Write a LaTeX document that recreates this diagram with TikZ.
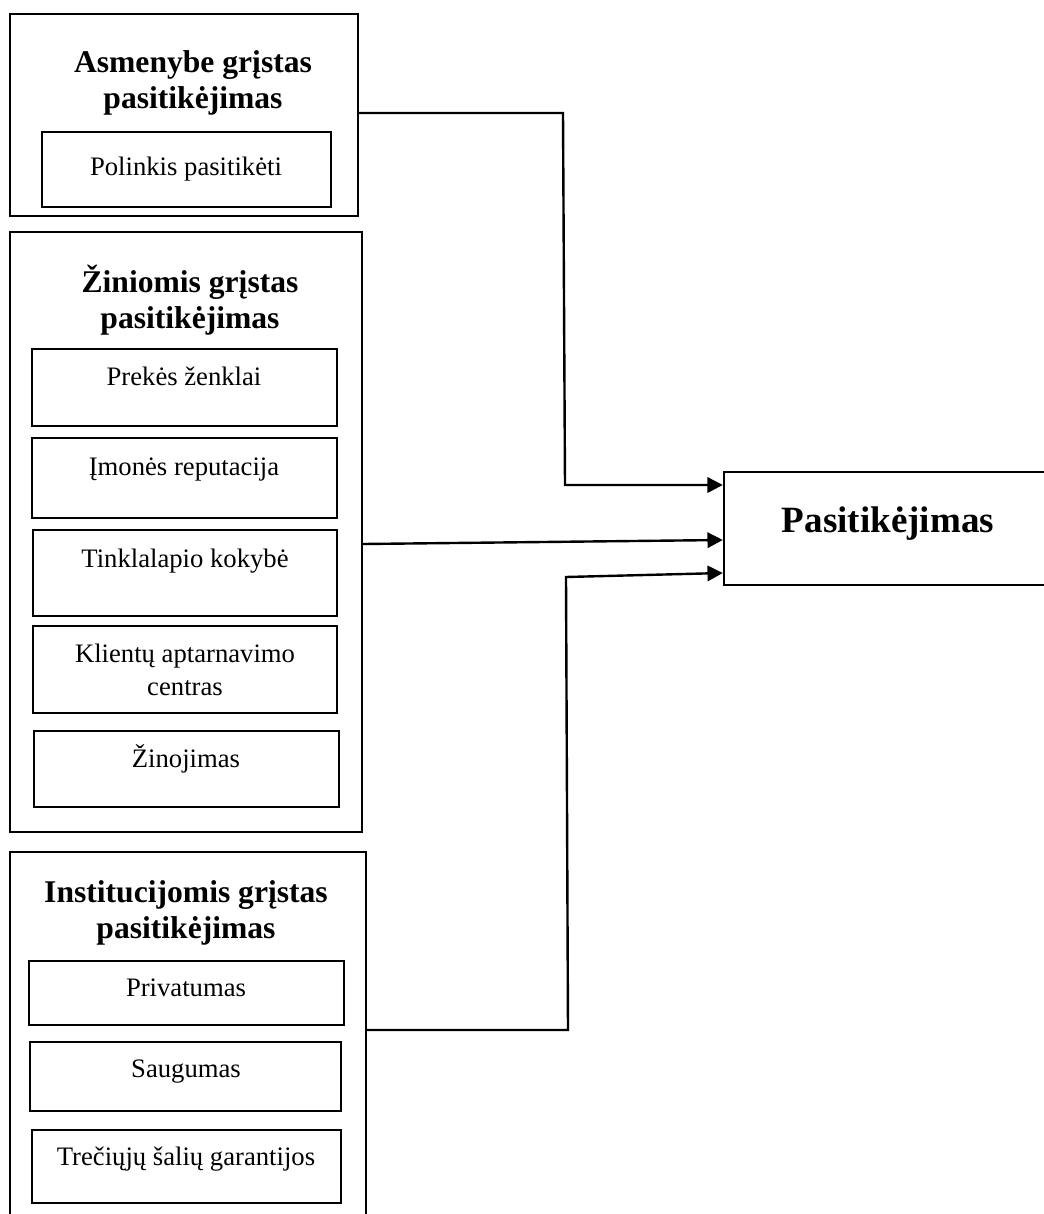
\documentclass[tikz,border=0pt]{standalone}
\usepackage{fontspec}
\setmainfont{Liberation Serif}
\usetikzlibrary{fit,arrows.meta}
\begin{document}
\begin{tikzpicture}[x=0.75pt,y=-0.75pt,
  group/.style={draw, line width=1.8pt, inner sep=0pt},
  item/.style={draw, line width=2.1pt, inner sep=0pt},
  itemtext/.style={anchor=base, font=\fontsize{20}{24.5}\selectfont, align=center},
  title/.style={anchor=base, font=\bfseries\fontsize{23.7}{26.3}\selectfont, align=center},
  link/.style={line width=1.8pt, -{Triangle[length=11.5pt,width=11.5pt]}}]
\useasboundingbox (0,0) rectangle (1044,1214);

% personality-based trust (base anchor = baseline of the last line)
\node[group, fit={(10,14) (358,216)}] (A) {};
\node[title] (At) at (193,108) {Asmenybe grįstas\\pasitikėjimas};
\node[item, fit={(42,132) (331,207)}] (A1) {};
\node[itemtext] (A1t) at (186,175) {Polinkis pasitikėti};

% knowledge-based trust
\node[group, fit={(10,232) (362,832)}] (B) {};
\node[title] (Bt) at (190,328) {Žiniomis grįstas\\pasitikėjimas};
\node[item, fit={(32,349) (337,426)}] (B1) {};
\node[itemtext] (B1t) at (184,385) {Prekės ženklai};
\node[item, fit={(32,438) (337,518)}] (B2) {};
\node[itemtext] (B2t) at (184,475) {Įmonės reputacija};
\node[item, fit={(33,530) (337,616)}] (B3) {};
\node[itemtext] (B3t) at (185,567) {Tinklalapio kokybė};
\node[item, fit={(33,626) (337,713)}] (B4) {};
\node[itemtext] (B4t) at (185,695) {Klientų aptarnavimo\\centras};
\node[item, fit={(34,731) (339,807)}] (B5) {};
\node[itemtext] (B5t) at (186,767) {Žinojimas};

% institution-based trust
\node[group, fit={(10,852) (366,1222)}] (C) {};
\node[title] (Ct) at (186,938) {Institucijomis grįstas\\pasitikėjimas};
\node[item, fit={(29,961) (344,1025)}] (C1) {};
\node[itemtext] (C1t) at (186,996) {Privatumas};
\node[item, fit={(30,1042) (341,1111)}] (C2) {};
\node[itemtext] (C2t) at (186,1077) {Saugumas};
\node[item, fit={(32,1130) (341,1203)}] (C3) {};
\node[itemtext] (C3t) at (186,1165) {Trečiųjų šalių garantijos};

% overall trust
\node[group, fit={(724,472) (1054,585)}] (P) {};
\node[title, font=\bfseries\fontsize{27.8}{30}\selectfont] (Pt) at (888,532) {Pasitikėjimas};

% connectors
\coordinate (y1) at (0,113);
\coordinate (y2) at (0,485);
\coordinate (y3) at (0,544);
\coordinate (y4) at (0,540);
\coordinate (y5) at (0,1030);
\coordinate (y6) at (0,573);
\draw[link] (A.east |- y1) -- (563,113) -- (565,485) -- (P.west |- y2);
\draw[link] (B.east |- y3) -- (P.west |- y4);
\draw[link] (C.east |- y5) -- (568,1030) -- (566,577) -- (P.west |- y6);
\end{tikzpicture}
\end{document}
